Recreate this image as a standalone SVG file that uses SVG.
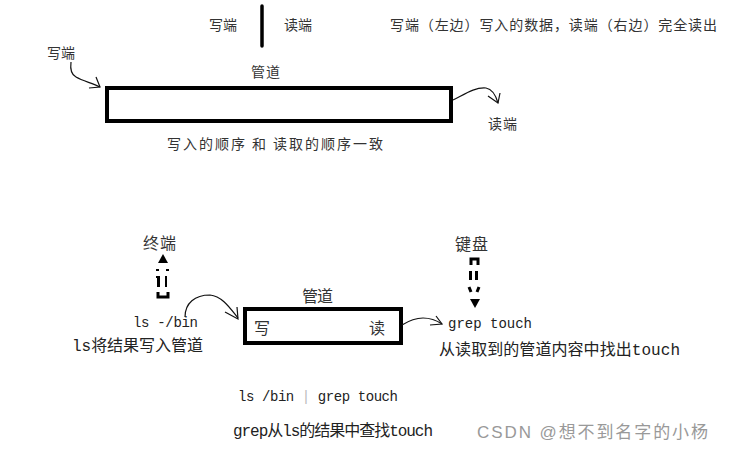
<svg xmlns="http://www.w3.org/2000/svg" width="741" height="450" viewBox="0 0 741 450">
<style>
.cj{font-family:"Noto Sans CJK SC","Liberation Serif",sans-serif;font-size:14px;fill:#333;dominant-baseline:central}
.cl{font-size:16px}
.mo{font-family:"Liberation Mono","Noto Sans CJK SC",monospace;font-size:14px;fill:#222;dominant-baseline:central}
.mx{font-family:"Liberation Mono","Noto Sans CJK SC",monospace;font-size:16px;fill:#222;dominant-baseline:central}
.pipe{fill:none;stroke:#000;stroke-width:4}
.cv{fill:none;stroke:#111;stroke-width:1.2}
.wm{font-family:"Liberation Sans","Noto Sans CJK SC",sans-serif;font-size:17px;fill:#999;dominant-baseline:central}
</style>
<rect width="741" height="450" fill="#fff"/>

<g id="top-legend">
<line x1="262" y1="6" x2="262" y2="46" stroke="#000" stroke-width="3.5" stroke-linecap="round"/>
<text class="cj" x="209" y="24" textLength="28">写端</text>
<text class="cj" x="284" y="24" textLength="28">读端</text>
<text class="cj" x="390" y="24" textLength="327">写端（左边）写入的数据，读端（右边）完全读出</text>
</g>

<g id="pipe1">
<rect class="pipe" x="107" y="88" width="344" height="33"/>
<text class="cj" x="251" y="71" textLength="29">管道</text>
<text class="cj" x="167" y="143" textLength="216">写入的顺序 和 读取的顺序一致</text>
</g>
<g id="write-end1"><text class="cj" x="47" y="52" textLength="28">写端</text></g>
<g id="read-end1"><text class="cj" x="488" y="123" textLength="29">读端</text></g>

<g id="pipe2">
<rect class="pipe" x="245" y="309" width="156" height="34"/>
<text class="cj cl" x="302" y="295" textLength="31">管道</text>
<text class="cj cl" x="254" y="327" textLength="15">写</text>
<text class="cj cl" x="369" y="327" textLength="15">读</text>
</g>
<g id="ls">
<text class="mo" x="133" y="323" textLength="65">ls -/bin</text>
<text class="mx" x="72" y="347" textLength="131">ls将结果写入管道</text>
</g>
<g id="grep">
<text class="mo" x="448" y="324" textLength="84">grep touch</text>
<text class="mx" x="439" y="351" textLength="241">从读取到的管道内容中找出touch</text>
</g>
<g id="terminal"><text class="cj cl" x="143" y="242" textLength="33">终端</text></g>
<g id="keyboard"><text class="cj cl" x="455" y="243" textLength="33">键盘</text></g>
<g id="command">
<text class="mo" x="238" y="397" textLength="160"><tspan>ls /bin </tspan><tspan fill="#bbb">|</tspan><tspan> grep touch</tspan></text>
<text class="mx" x="233" y="432" textLength="200">grep从ls的结果中查找touch</text>
</g>
<text class="wm" x="477" y="432" textLength="231">CSDN @想不到名字的小杨</text>

<g id="connectors">
<path class="cv" d="M71,62 C70,70 72,75 76,77 C83,81 92,83 100,87"/>
<path class="cv" d="M96,77 L100,87 L89,88"/>
<path class="cv" d="M453,100 C465,94 475,87 486,88 C492,89 496,96 498,103"/>
<path class="cv" d="M488,96 L498,103 L500,93"/>
<path class="cv" d="M185,317 C185,303 195,295 210,295 C222,296 230,308 238,318"/>
<path class="cv" d="M225,312 L238,319 L237,307"/>
<path class="cv" d="M402,325 C410,320 416,318 423,318 C430,318 436,320 442,324"/>
<path class="cv" d="M436,316 L442,324 L430,325"/>
<g id="up-arrow" fill="#000" stroke="#000">
<polygon points="158,263 163,254 168,263" stroke="none"/>
<line x1="156" y1="270" x2="159" y2="270" stroke-width="2"/>
<line x1="166" y1="270" x2="169" y2="270" stroke-width="2"/>
<rect x="156" y="276" width="4" height="2" stroke="none"/>
<rect x="157" y="276" width="3" height="11" stroke="none"/>
<rect x="165" y="276" width="2" height="11" stroke="none"/>
<path d="M158,292 V297 H168 V292" fill="none" stroke-width="3"/>
</g>
<g id="down-arrow" fill="#000" stroke="#000">
<path d="M471,265 V259 H478 V265" fill="none" stroke-width="3"/>
<rect x="469" y="271" width="3" height="9" stroke="none"/>
<rect x="475" y="271" width="3" height="9" stroke="none"/>
<line x1="469" y1="287" x2="471" y2="292" stroke-width="3"/>
<line x1="479" y1="287" x2="477" y2="292" stroke-width="3"/>
<polygon points="470,299 480,299 475,308" stroke="none"/>
</g>
</g>
</svg>
